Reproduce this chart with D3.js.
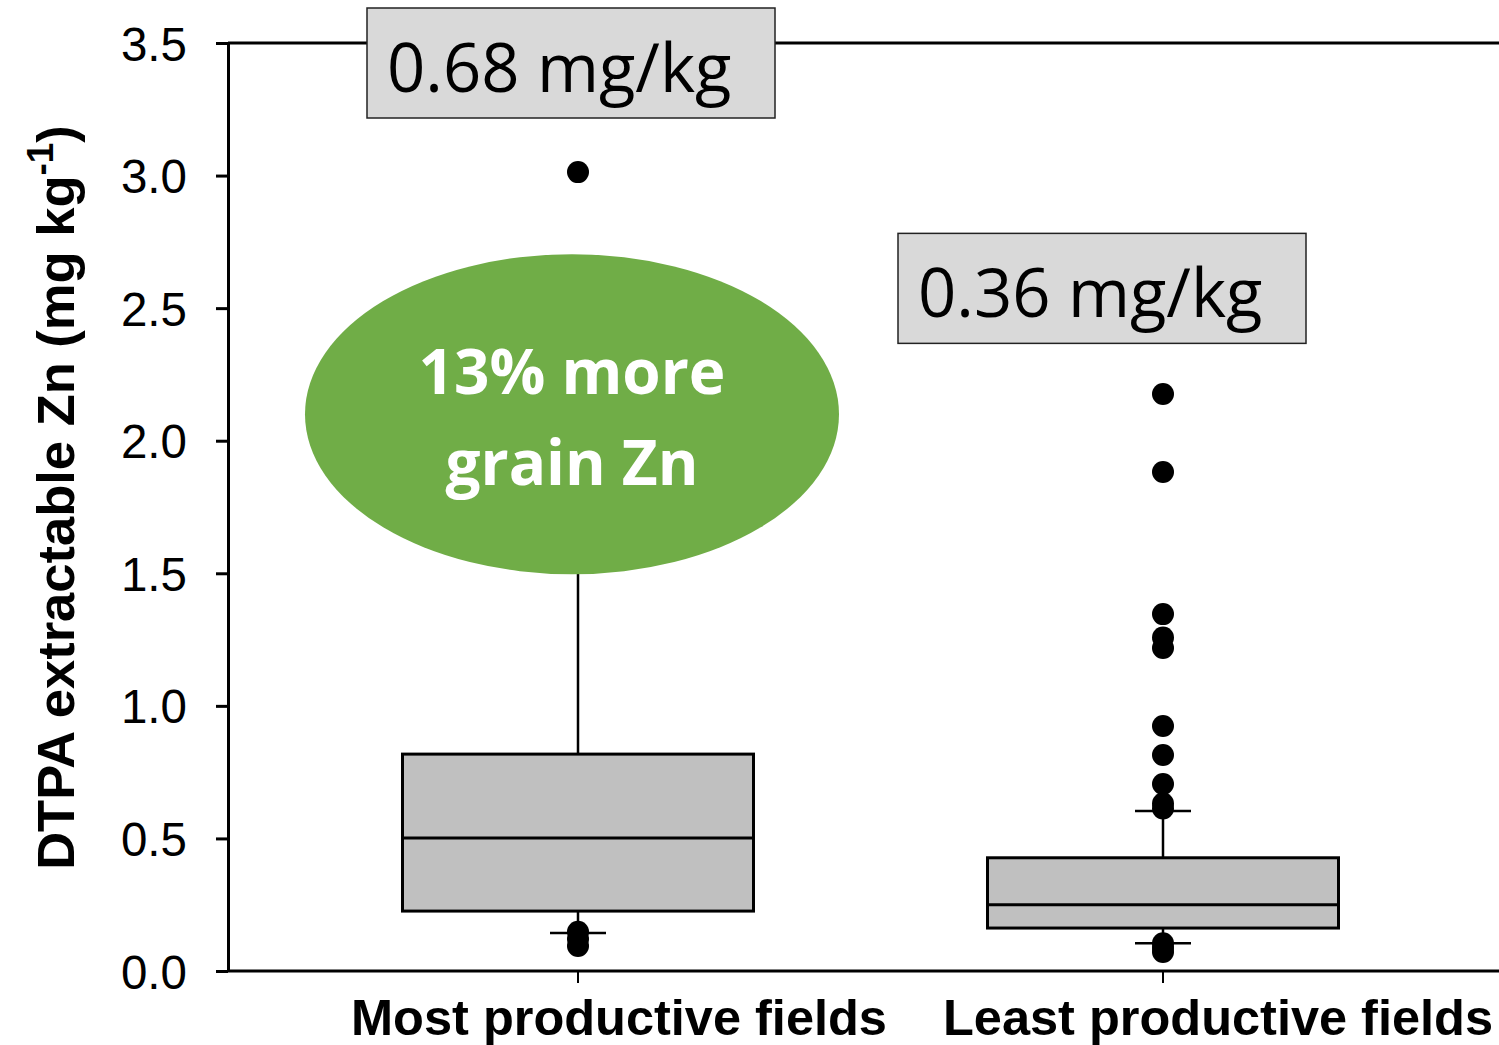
<!DOCTYPE html>
<html>
<head>
<meta charset="utf-8">
<script src="https://cdn.jsdelivr.net/npm/d3@7"></script>
<style>
  body { margin: 0; background: #fff; }
  svg { display: block; }
  .axis text { font-family: 'Liberation Sans', Arial, sans-serif; }
</style>
</head>
<body>
<svg width="1499" height="1045"></svg>
<script>
'use strict';
// data
const categories = ['Most productive fields', 'Least productive fields'];
const q1 = [0.226, 0.162];
const medians = [0.502, 0.250];
const q3 = [0.818, 0.427];
const whisker_low = [0.143, 0.105];
const whisker_high = [1.75, 0.603];
const outliers = [
  [3.013, 0.148, 0.121, 0.094],
  [2.176, 1.882, 1.346, 1.258, 1.218, 0.924, 0.815, 0.705, 0.632, 0.613, 0.105, 0.088, 0.072]
];
const y_ticks = [0, 0.5, 1.0, 1.5, 2.0, 2.5, 3.0, 3.5];
const callouts = ['0.68 mg/kg', '0.36 mg/kg'];
const callout_at = [3.5, 2.65]; // value the box's centre sits near
const bubble_lines = ['13% more', 'grain Zn'];

const svg = d3.select('svg');
const svg_width = +svg.attr('width');

const plot_left = 228;
const plot_top = 43;
const plot_bottom = 971;

const y_scale = d3.scaleLinear().domain([0, 3.5]).range([plot_bottom, plot_top]);
const x_scale = d3.scaleBand().domain(categories).range([285.5, 1455.5]);
const box_w = x_scale.bandwidth() * 0.6;
const cap_w = 56;
const cx = i => x_scale(categories[i]) + x_scale.bandwidth() / 2;

const stats = categories.map((c, i) => ({
  cat: c, i: i, q1: q1[i], med: medians[i], q3: q3[i],
  lo: whisker_low[i], hi: whisker_high[i], out: outliers[i]
}));

//top frame line
svg.append('line')
  .attr('x1', plot_left).attr('x2', svg_width)
  .attr('y1', y_scale(3.5)).attr('y2', y_scale(3.5))
  .attr('stroke', '#000').attr('stroke-width', 3);

//left axis
const y_axis = svg.append('g')
  .attr('class', 'axis')
  .attr('transform', `translate(${plot_left},0)`)
  .call(d3.axisLeft(y_scale).tickValues(y_ticks).tickFormat(d3.format('.1f'))
    .tickSize(12).tickSizeOuter(0).tickPadding(29));
y_axis.select('.domain').attr('stroke-width', 3);
y_axis.selectAll('.tick line').attr('stroke-width', 3);
y_axis.selectAll('.tick text').attr('font-size', 47.5).attr('fill', '#000').attr('dy', '0.36em');

//bottom axis
const x_axis = svg.append('g')
  .attr('class', 'axis')
  .attr('transform', `translate(0,${plot_bottom})`)
  .call(d3.axisBottom(x_scale).tickSize(12).tickSizeOuter(0).tickFormat(''));
x_axis.select('.domain').attr('d', `M${plot_left},0H${svg_width}`).attr('stroke-width', 3);
x_axis.selectAll('.tick line').attr('stroke-width', 2);

const label_dx = [41, 55];
svg.append('g').selectAll('text').data(stats).enter()
  .append('text')
    .attr('x', d => cx(d.i) + label_dx[d.i])
    .attr('y', 1035)
    .attr('text-anchor', 'middle')
    .attr('font-family', "'Liberation Sans', Arial, sans-serif")
    .attr('font-weight', 'bold')
    .attr('font-size', 50.5)
    .text(d => d.cat);

//y axis title
const y_title = svg.append('text')
  .attr('transform', `translate(74,${(130 + 865) / 2}) rotate(-90)`)
  .attr('text-anchor', 'middle')
  .attr('font-family', "'Liberation Sans', Arial, sans-serif")
  .attr('font-weight', 'bold')
  .attr('font-size', 52.5);
y_title.append('tspan').text('DTPA extractable Zn (mg kg');
y_title.append('tspan').attr('font-size', 37).attr('dy', -21).text('-1');
y_title.append('tspan').attr('dy', 21).text(')');

//boxes
const boxes = svg.append('g').selectAll('g').data(stats).enter()
  .append('g');

boxes.append('line') //whisker
  .attr('x1', d => cx(d.i)).attr('x2', d => cx(d.i))
  .attr('y1', d => y_scale(d.lo)).attr('y2', d => y_scale(d.hi))
  .attr('stroke', '#000').attr('stroke-width', 2.5);

boxes.selectAll('.cap').data(d => [d.lo, d.hi].map(v => ({v: v, i: d.i}))).enter()
  .append('line')
    .attr('class', 'cap')
    .attr('x1', d => cx(d.i) - cap_w / 2).attr('x2', d => cx(d.i) + cap_w / 2)
    .attr('y1', d => y_scale(d.v)).attr('y2', d => y_scale(d.v))
    .attr('stroke', '#000').attr('stroke-width', 2.5);

boxes.append('rect')
  .attr('x', d => cx(d.i) - box_w / 2)
  .attr('y', d => y_scale(d.q3))
  .attr('width', box_w)
  .attr('height', d => y_scale(d.q1) - y_scale(d.q3))
  .attr('fill', '#c0c0c0')
  .attr('stroke', '#000').attr('stroke-width', 3);

boxes.append('line') //median
  .attr('x1', d => cx(d.i) - box_w / 2).attr('x2', d => cx(d.i) + box_w / 2)
  .attr('y1', d => y_scale(d.med)).attr('y2', d => y_scale(d.med))
  .attr('stroke', '#000').attr('stroke-width', 3);

boxes.selectAll('circle').data(d => d.out.map(v => ({v: v, i: d.i}))).enter()
  .append('circle')
    .attr('cx', d => cx(d.i))
    .attr('cy', d => y_scale(d.v))
    .attr('r', 11)
    .attr('fill', '#000');

//green bubble
const bubble = svg.append('g')
  .attr('transform', `translate(${cx(0) - 6},${y_scale(2.1)})`);
bubble.append('ellipse')
  .attr('rx', 267).attr('ry', 160)
  .attr('fill', '#70ad47');
bubble.selectAll('text').data(bubble_lines).enter()
  .append('text')
    .attr('x', 0)
    .attr('y', (d, i) => -20 + i * 91)
    .attr('text-anchor', 'middle')
    .attr('font-family', "'Open Sans', sans-serif")
    .attr('font-weight', 'bold')
    .attr('font-size', 62)
    .attr('fill', '#fff')
    .text(d => d);

//value call-outs
const call_w = 408, call_h = 110;
const call_dx = [-211, -265];
const call_g = svg.append('g').selectAll('g').data(callouts).enter()
  .append('g')
    .attr('transform', (d, i) => `translate(${cx(i) + call_dx[i]},${y_scale(callout_at[i]) - 35})`);
call_g.append('rect')
  .attr('width', call_w).attr('height', call_h)
  .attr('fill', '#d9d9d9')
  .attr('stroke', '#222').attr('stroke-width', 1.5);
call_g.append('text')
  .attr('x', 20).attr('y', 84)
  .attr('font-family', "'Open Sans', sans-serif")
  .attr('font-size', 67)
  .attr('fill', '#000')
  .text(d => d);
</script>
</body>
</html>
